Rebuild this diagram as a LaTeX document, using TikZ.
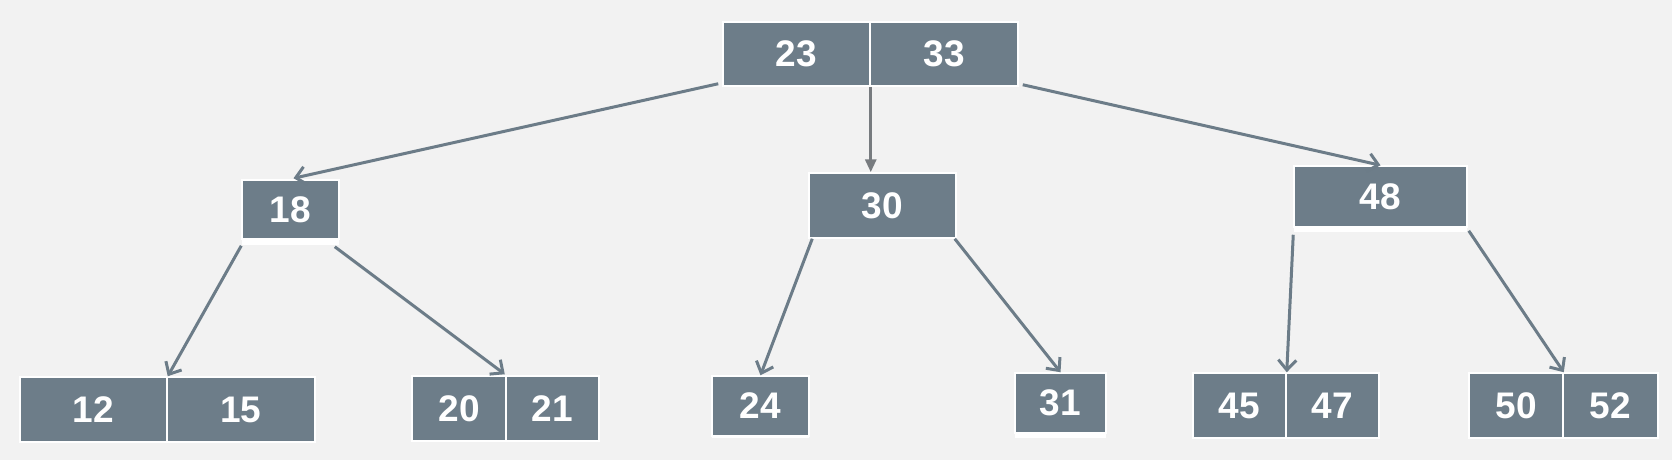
\documentclass[tikz,border=0pt]{standalone}
\usepackage{fontspec}
\setmainfont{Liberation Sans}
\usetikzlibrary{arrows.meta,calc}
\definecolor{bgc}{HTML}{F2F2F2}
\definecolor{boxc}{HTML}{6D7D89}
\definecolor{linec}{HTML}{6C7C88}
\definecolor{midc}{HTML}{777B7F}
\tikzset{
  cell/.style={rectangle, fill=boxc, draw=white, line width=1.5pt, text=white,
    inner sep=0pt, font=\fontsize{37}{40}\selectfont\bfseries},
  conn/.style={draw=linec, line width=3pt, -{Straight Barb[length=10pt,width=18pt]}},
  midconn/.style={draw=midc, line width=3pt, -{Triangle[length=13pt,width=11pt]}},
  band/.style={fill=white}
}
\begin{document}
\begin{tikzpicture}[x=1pt,y=-1pt]
\useasboundingbox (0,0) rectangle (1672,460);
\fill[bgc] (0,0) rectangle (1672,460);

% root
\node[cell, minimum width=147pt, minimum height=64pt] (r1) at (796.5,54) {23};
\node[cell, minimum width=148pt, minimum height=64pt] (r2) at (944,54) {33};

% middle level
\fill[band] (242,236) rectangle (339,245);
\node[cell, minimum width=97pt, minimum height=59pt] (n18) at (290.5,209.5) {18};
\node[cell, minimum width=147pt, minimum height=65pt] (n30) at (882.5,205.5) {30};
\fill[band] (1294,224) rectangle (1467,232);
\node[cell, minimum width=173pt, minimum height=61pt] (n48) at (1380.5,196.5) {48};

% leaves
\node[cell, minimum width=147pt, minimum height=65pt] (l12) at (93.5,409.5) {12};
\node[cell, minimum width=148pt, minimum height=65pt] (l15) at (241,409.5) {15};
\node[cell, minimum width=94pt, minimum height=65pt] (l20) at (459,408.5) {20};
\node[cell, minimum width=93pt, minimum height=65pt] (l21) at (552.5,408.5) {21};
\fill[band] (712,434) rectangle (809,438);
\node[cell, minimum width=97pt, minimum height=60pt] (l24) at (760.5,406) {24};
\fill[band] (1015,431) rectangle (1106,438);
\node[cell, minimum width=91pt, minimum height=60pt] (l31) at (1060.5,403) {31};
\node[cell, minimum width=93pt, minimum height=65pt] (l45) at (1239.5,405.5) {45};
\node[cell, minimum width=93pt, minimum height=65pt] (l47) at (1332.5,405.5) {47};
\node[cell, minimum width=94pt, minimum height=65pt] (l50) at (1516,405.5) {50};
\node[cell, minimum width=95pt, minimum height=65pt] (l52) at (1610.5,405.5) {52};

% connectors
\draw[conn] ($(r1.south west)+(-4,-3)$) -- ($(n18.north)+(3,-1)$);
\draw[midconn] (r1.south east) -- (r1.south east |- n30.north);
\draw[conn] ($(r2.south east)+(4,-2)$) -- (n48.north);
\draw[conn] ($(n18.south west)+(0,6)$) -- (l12.north east);
\draw[conn] ($(n18.south east)+(-5,7)$) -- ($(l20.north east)+(-2,-1)$);
\draw[conn] ($(n30.south west)+(4,0)$) -- (l24.north);
\draw[conn] ($(n30.south east)+(-2,0)$) -- (l31.north);
\draw[conn] ($(n48.south west)+(0,7)$) -- (l45.north east);
\draw[conn] ($(n48.south east)+(1,3)$) -- (l50.north east);
\end{tikzpicture}
\end{document}
